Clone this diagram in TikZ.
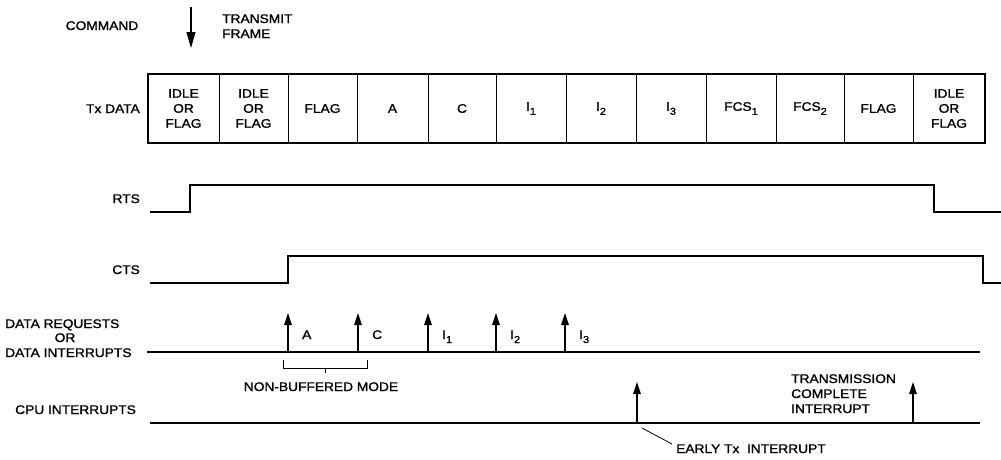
\documentclass[tikz,border=0pt]{standalone}
\usepackage{fontspec}
\setmainfont{Liberation Sans}[FakeStretch=1.1,FakeBold=1.3]
\usetikzlibrary{arrows.meta}
\newcommand\sbx[1]{\raisebox{-4pt}{\fontsize{10}{10}\selectfont #1}}
\begin{document}
\begin{tikzpicture}[x=1pt,y=-1pt,
  lbl/.style={font=\fontsize{12.5}{15}\selectfont, inner sep=0pt},
  celltxt/.style={lbl, align=center},
  sig/.style={line width=2pt, line join=miter},
  reqarrow/.style={line width=1.3pt, -{Triangle[length=12pt,width=7.5pt]}},
  cmdarrow/.style={line width=1.1pt, -{Triangle[length=16pt,width=9pt]}},
  thinline/.style={line width=0.8pt}]
\useasboundingbox (0,0) rectangle (1001,459);

% command
\node[lbl, anchor=base] (cmd) at (102,30) {COMMAND};
\coordinate (cmdtop) at (191,7);
\coordinate (cmdtip) at (191,48);
\draw[cmdarrow] (cmdtop) -- (cmdtip);
\node[lbl, anchor=base west] (tf1) at (222,23) {TRANSMIT};
\node[lbl, anchor=base west] (tf2) at (222,38) {FRAME};

% Tx data
\node[lbl, anchor=base east] (txl) at (140,113) {Tx DATA};
\foreach \a/\b/\t [count=\i] in {148/219/{IDLE\\OR\\FLAG},219/288/{IDLE\\OR\\FLAG},288/357/{FLAG},357/428/{A},428/496/{C},496/566/{I\sbx{1}},566/636/{I\sbx{2}},636/706/{I\sbx{3}},706/776/{FCS\sbx{1}},776/844/{FCS\sbx{2}},844/913/{FLAG},913/985/{IDLE\\OR\\FLAG}}{
  \draw[line width=1pt] (\a,74) rectangle (\b,143);
  \node[celltxt] (c\i) at ({(\a+\b)/2},108.5) {\t};
}
\draw[line width=2.4pt] (148,74) rectangle (985,143);

% RTS
\node[lbl, anchor=base east] (rts) at (140,203) {RTS};
\draw[sig] (150,212) -- (190,212) -- (190,185) -- (934,185) -- (934,212) -- (1001,212);

% CTS
\node[lbl, anchor=base east] (cts) at (140,274) {CTS};
\draw[sig] (150,283) -- (288,283) -- (288,256) -- (983,256) -- (983,283) -- (1001,283);

% data requests
\node[lbl, anchor=base west] (dr1) at (5,328) {DATA REQUESTS};
\node[lbl, anchor=base] (dr2) at (65,342) {OR};
\node[lbl, anchor=base west] (dr3) at (5,357) {DATA INTERRUPTS};
\coordinate (dl0) at (147,352);
\coordinate (dl1) at (980,352);
\draw[sig] (dl0) -- (dl1);
\foreach \x/\t [count=\i] in {288/A,358/C,428/{I\sbx{1}},496/{I\sbx{2}},565/{I\sbx{3}}}{
  \coordinate (rb\i) at (\x,352);
  \coordinate (rt\i) at (\x,313);
  \draw[reqarrow] (rb\i) -- (rt\i);
  \node[lbl, anchor=base west] (rl\i) at (\x+14,339) {\t};
}
% bracket
\coordinate (bl) at (283,360);
\coordinate (br) at (367,360);
\draw[thinline] (bl) -- (283,368) -- (367,368) -- (br);
\draw[thinline] (325,368) -- (325,373);
\node[lbl, anchor=base] (nbm) at (321,391) {NON-BUFFERED MODE};

% CPU interrupts
\node[lbl, anchor=base west] (cpu) at (15,414) {CPU INTERRUPTS};
\coordinate (cl0) at (150,423);
\coordinate (cl1) at (980,423);
\draw[sig] (cl0) -- (cl1);
\coordinate (e0) at (637,423);
\coordinate (e1) at (637,382);
\draw[reqarrow] (e0) -- (e1);
\coordinate (t0) at (913,423);
\coordinate (t1) at (913,382);
\draw[reqarrow] (t0) -- (t1);
\node[lbl, anchor=base west, align=left] (tci) at (791,413) {TRANSMISSION\\COMPLETE\\INTERRUPT};
\node[lbl, anchor=base west] (etx) at (676,453) {EARLY Tx\ \ INTERRUPT};
\coordinate (lead0) at (642,428);
\coordinate (lead1) at (672,444);
\draw[thinline] (lead0) -- (lead1);
\end{tikzpicture}
\end{document}
